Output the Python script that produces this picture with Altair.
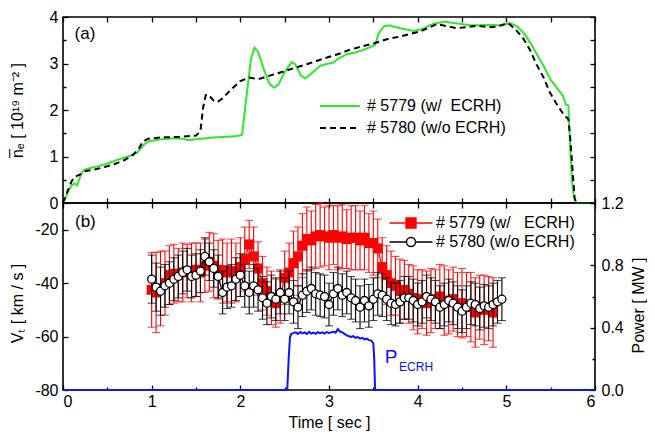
import altair as alt
import pandas as pd

FONT = "Liberation Sans"

# ---------------- top panel (a): line-averaged density ----------------
green_t = [0.00, 0.03, 0.07, 0.10, 0.13, 0.16, 0.19, 0.22, 0.26, 0.32, 0.40, 0.50, 0.60, 0.70,
           0.78, 0.84, 0.88, 0.92, 0.98, 1.10, 1.25, 1.35, 1.42, 1.50, 1.70, 1.90, 2.00, 2.02,
           2.07, 2.12, 2.16, 2.20, 2.27, 2.33, 2.38, 2.43, 2.50, 2.58, 2.62, 2.68, 2.73, 2.80,
           2.90, 3.00, 3.05, 3.10, 3.20, 3.30, 3.40, 3.52, 3.56, 3.62, 3.68, 3.80, 3.95, 4.05,
           4.17, 4.30, 4.45, 4.60, 4.80, 4.95, 5.04, 5.12, 5.20, 5.28, 5.35, 5.42, 5.50, 5.58,
           5.64, 5.67, 5.70, 5.72, 5.74, 5.76, 5.79, 6.00]
green_n = [0.00, 0.12, 0.30, 0.38, 0.42, 0.38, 0.55, 0.68, 0.73, 0.76, 0.79, 0.85, 0.92, 0.98,
           1.03, 1.09, 1.18, 1.27, 1.33, 1.37, 1.39, 1.38, 1.35, 1.37, 1.41, 1.43, 1.45, 1.47,
           2.30, 3.10, 3.34, 3.25, 2.85, 2.56, 2.48, 2.55, 2.82, 3.03, 2.98, 2.75, 2.68, 2.78,
           2.95, 3.00, 3.02, 3.10, 3.20, 3.24, 3.30, 3.40, 3.65, 3.80, 3.82, 3.76, 3.70, 3.74,
           3.85, 3.90, 3.86, 3.82, 3.83, 3.82, 3.87, 3.80, 3.65, 3.42, 3.18, 2.95, 2.65, 2.45,
           2.30, 2.12, 2.10, 1.20, 0.50, 0.15, 0.00, 0.00]

black_t = [0.00, 0.05, 0.10, 0.14, 0.20, 0.26, 0.38, 0.50, 0.60, 0.70, 0.79, 0.85, 0.90, 0.96,
           1.10, 1.30, 1.50, 1.55, 1.58, 1.61, 1.64, 1.70, 1.74, 1.80, 1.90, 2.00, 2.10, 2.20,
           2.30, 2.44, 2.62, 2.81, 2.96, 3.10, 3.24, 3.40, 3.52, 3.65, 3.80, 4.03, 4.22, 4.33,
           4.44, 4.55, 4.67, 4.80, 4.89, 5.02, 5.10, 5.19, 5.27, 5.34, 5.42, 5.49, 5.56, 5.64,
           5.70, 5.72, 5.74, 5.77, 5.79]
black_n = [0.00, 0.25, 0.48, 0.57, 0.62, 0.69, 0.73, 0.79, 0.85, 0.93, 1.04, 1.15, 1.32, 1.38,
           1.41, 1.42, 1.45, 1.55, 2.05, 2.32, 2.33, 2.20, 2.17, 2.25, 2.45, 2.62, 2.70, 2.66,
           2.72, 2.80, 2.91, 3.02, 3.12, 3.20, 3.30, 3.38, 3.44, 3.52, 3.58, 3.69, 3.85, 3.80,
           3.76, 3.78, 3.81, 3.78, 3.79, 3.87, 3.74, 3.54, 3.28, 2.98, 2.70, 2.38, 2.15, 1.92,
           1.80, 1.40, 0.89, 0.10, 0.00]

top_series = ["# 5779 (w/\u00a0 ECRH)", "# 5780 (w/o ECRH)"]

# ---------------- bottom panel (b): toroidal velocity and ECRH power ----------------
red_t = [1.00, 1.05, 1.10, 1.15, 1.20, 1.25, 1.30, 1.35, 1.40, 1.45,
         1.50, 1.55, 1.60, 1.65, 1.70, 1.75, 1.80, 1.85, 1.90, 1.95,
         2.00, 2.05, 2.10, 2.15, 2.20, 2.25, 2.30, 2.35, 2.40, 2.45,
         2.50, 2.55, 2.60, 2.65, 2.70, 2.75, 2.80, 2.85, 2.90, 2.95,
         3.00, 3.05, 3.10, 3.15, 3.20, 3.25, 3.30, 3.35, 3.40, 3.45,
         3.50, 3.55, 3.60, 3.65, 3.70, 3.75, 3.80, 3.85, 3.90, 3.95,
         4.00, 4.05, 4.10, 4.15, 4.20, 4.25, 4.30, 4.35, 4.40, 4.45,
         4.50, 4.55, 4.60, 4.65, 4.70, 4.75, 4.80, 4.85]
red_v = [-42.5, -43.5, -42.0, -40.0, -37.0, -36.5, -37.0, -36.0, -35.5, -36.0,
         -35.0, -36.0, -33.5, -32.0, -33.5, -35.0, -35.5, -36.0, -35.5, -36.0,
         -34.0, -31.0, -25.5, -30.0, -34.5, -40.0, -43.0, -45.5, -47.5, -45.0,
         -38.0, -36.0, -32.5, -30.0, -26.0, -23.5, -24.0, -22.5, -22.0, -22.5,
         -23.0, -22.0, -23.0, -22.5, -23.5, -23.0, -23.0, -24.0, -23.0, -25.0,
         -25.0, -27.0, -34.0, -37.0, -40.0, -41.0, -43.0, -42.5, -44.0, -45.5,
         -47.0, -46.0, -47.5, -46.5, -46.0, -45.0, -46.5, -47.0, -46.0, -48.0,
         -47.5, -48.0, -49.0, -51.0, -49.0, -50.0, -49.5, -51.0]
red_e = [14, 15, 14, 12, 11, 11, 10, 11, 10, 11,
         10, 11, 10, 11, 12, 11, 12, 11, 12, 11,
         11, 12, 9, 11, 10, 10, 9, 10, 9, 10,
         10, 11, 12, 11, 12, 12, 11, 12, 12, 11,
         12, 11, 12, 12, 11, 12, 12, 11, 12, 11,
         12, 11, 11, 11, 12, 11, 12, 11, 11, 12,
         12, 11, 12, 12, 11, 12, 13, 12, 12, 12,
         13, 12, 13, 13, 12, 13, 12, 13]

blk_t = [1.00, 1.05, 1.10, 1.15, 1.20, 1.25, 1.30, 1.35, 1.40, 1.45,
         1.50, 1.55, 1.60, 1.65, 1.70, 1.75, 1.80, 1.85, 1.90, 1.95,
         2.00, 2.05, 2.10, 2.15, 2.20, 2.25, 2.30, 2.35, 2.40, 2.45,
         2.50, 2.55, 2.60, 2.65, 2.70, 2.75, 2.80, 2.85, 2.90, 2.95,
         3.00, 3.05, 3.10, 3.15, 3.20, 3.25, 3.30, 3.35, 3.40, 3.45,
         3.50, 3.55, 3.60, 3.65, 3.70, 3.75, 3.80, 3.85, 3.90, 3.95,
         4.00, 4.05, 4.10, 4.15, 4.20, 4.25, 4.30, 4.35, 4.40, 4.45,
         4.50, 4.55, 4.60, 4.65, 4.70, 4.75, 4.80, 4.85, 4.90, 4.95]
blk_v = [-38.5, -41.5, -43.0, -41.0, -40.0, -38.5, -37.5, -36.0, -35.0, -37.5,
         -37.0, -35.5, -30.0, -32.0, -34.5, -37.5, -43.5, -41.5, -41.0, -38.5,
         -37.0, -41.0, -43.5, -41.0, -42.5, -45.5, -47.5, -45.0, -46.0, -43.5,
         -46.0, -43.5, -47.0, -49.0, -44.5, -43.0, -42.0, -44.0, -44.5, -45.0,
         -48.0, -44.0, -42.0, -44.5, -43.5, -45.5, -46.5, -49.0, -46.5, -48.5,
         -46.0, -44.0, -44.5, -46.0, -47.5, -48.0, -47.0, -45.5, -45.5, -46.5,
         -48.0, -47.0, -45.0, -46.0, -47.0, -49.0, -48.0, -46.5, -47.5, -49.0,
         -50.5, -49.0, -47.5, -48.0, -49.5, -48.5, -49.0, -48.0, -47.0, -46.0]
blk_e = [9, 9, 9, 8, 8, 8, 8, 8, 8, 8,
         8, 8, 7, 7, 7, 8, 8, 8, 8, 8,
         8, 8, 8, 8, 8, 8, 8, 8, 8, 8,
         8, 8, 8, 8, 8, 8, 8, 8, 8, 8,
         8, 8, 8, 8, 8, 8, 8, 8, 8, 8,
         8, 8, 8, 8, 8, 8, 8, 8, 8, 8,
         8, 8, 8, 8, 8, 8, 8, 8, 8, 8,
         8, 8, 8, 8, 8, 8, 8, 8, 8, 8]

pw_t = [0.00, 2.50, 2.53, 2.545, 2.56, 2.575, 2.60, 2.625, 2.65, 2.675, 2.70, 2.725, 2.75,
        2.775, 2.80, 2.825, 2.85, 2.875, 2.90, 2.925, 2.95, 2.975, 3.00, 3.025, 3.05, 3.075,
        3.10, 3.125, 3.15, 3.175, 3.20, 3.225, 3.25, 3.275, 3.30, 3.325, 3.35, 3.375, 3.40,
        3.425, 3.45, 3.475, 3.50, 3.51, 3.52, 6.00]
pw_p = [0.00, 0.00, 0.01, 0.20, 0.34, 0.36, 0.365, 0.37, 0.36, 0.372, 0.363, 0.37, 0.36,
        0.373, 0.362, 0.368, 0.36, 0.371, 0.365, 0.37, 0.362, 0.372, 0.366, 0.37, 0.375, 0.368,
        0.39, 0.375, 0.37, 0.36, 0.35, 0.345, 0.34, 0.345, 0.335, 0.34, 0.33, 0.335, 0.325,
        0.33, 0.32, 0.318, 0.30, 0.20, 0.00, 0.00]

bot_series = ["# 5779 (w/\u00a0\u00a0 ECRH)", "# 5780 (w/o ECRH)"]

RED = "#ff0000"
GREEN = "#2ee82e"
BLUE = "#0a14ff"

# ---------------- data tables ----------------
top_df = pd.concat([
    pd.DataFrame({"t": green_t, "n": green_n, "series": top_series[0]}),
    pd.DataFrame({"t": black_t, "n": black_n, "series": top_series[1]}),
], ignore_index=True)

red_df = pd.DataFrame({"t": red_t, "v": red_v, "e": red_e, "series": bot_series[0]})
red_df["lo"] = red_df["v"] - red_df["e"]
red_df["hi"] = red_df["v"] + red_df["e"]
blk_df = pd.DataFrame({"t": blk_t, "v": blk_v, "e": blk_e, "series": bot_series[1]})
blk_df["lo"] = blk_df["v"] - blk_df["e"]
blk_df["hi"] = blk_df["v"] + blk_df["e"]
both_df = pd.concat([red_df, blk_df], ignore_index=True)
pw_df = pd.DataFrame({"t": pw_t, "p": pw_p})

W, H1, H2 = 532, 186, 187


def axis(orient, values, label_expr=None, minor_test=None, title=None, **kw):
    props = dict(orient=orient, values=values, offset=-5, tickSize=5, tickWidth=1.3,
                 tickColor="black", domain=False, grid=False, title=title)
    if label_expr is None:
        props["labels"] = False
    else:
        props["labelExpr"] = label_expr
    if minor_test is not None:
        props["tickDash"] = {"condition": {"test": minor_test, "value": [0, 2, 3]},
                             "value": [5, 0]}
    props.update(kw)
    return alt.Axis(**props)


half_steps = [0, 0.5, 1, 1.5, 2, 2.5, 3, 3.5, 4, 4.5, 5, 5.5, 6]

# ---- top panel encodings
xt = alt.X("t:Q", scale=alt.Scale(domain=[0, 6], nice=False, zero=False),
           axis=axis("bottom", half_steps))
yt = alt.Y("n:Q", scale=alt.Scale(domain=[0, 4], nice=False, zero=False),
           axis=axis("left", [0, 0.5, 1, 1.5, 2, 2.5, 3, 3.5, 4],
                     label_expr="datum.value % 1 == 0 ? format(datum.value, 'd') : ''",
                     minor_test="datum.value % 1 != 0",
                     title="n\u0305\u2091 [ 10\u00b9\u2079 m\u207b\u00b2 ]",
                     labelPadding=5, titleX=-51, titleY=93, titleAngle=270,
                     titleBaseline="middle", titleAlign="center"))
xt2 = alt.X("t:Q", scale=alt.Scale(domain=[0, 6], nice=False, zero=False),
            axis=axis("top", half_steps))
yt2 = alt.Y("n:Q", scale=alt.Scale(domain=[0, 4], nice=False, zero=False),
            axis=axis("right", [0, 0.5, 1, 1.5, 2, 2.5, 3, 3.5, 4]))

leg_t = alt.Legend(title=None, orient="none", legendX=266, legendY=78,
                   symbolType="M-2,0H2", symbolSize=400, symbolStrokeWidth=2,
                   labelOffset=16, padding=0, rowPadding=3)
top_lines = alt.Chart(top_df).mark_line(strokeWidth=2).encode(
    x=xt, y=yt,
    color=alt.Color("series:N", scale=alt.Scale(domain=top_series, range=[GREEN, "black"]),
                    legend=leg_t),
    strokeDash=alt.StrokeDash("series:N",
                              scale=alt.Scale(domain=top_series, range=[[1, 0], [6, 4]]),
                              legend=leg_t),
    detail="series:N",
)
label_a = alt.Chart(pd.DataFrame({"t": [0.13], "n": [3.63], "txt": ["(a)"]})).mark_text(
    align="left", baseline="middle", fontSize=17, font=FONT, color="black"
).encode(x=xt, y=yt, text="txt:N")

top_mirror = alt.Chart(top_df).mark_point(opacity=0, size=1).encode(x=xt2, y=yt2)

top = alt.layer(alt.layer(top_lines, label_a), top_mirror).resolve_scale(
    x="independent", y="independent").properties(width=W, height=H1)

# ---- bottom panel encodings
xb = alt.X("t:Q", scale=alt.Scale(domain=[0, 6], nice=False, zero=False),
           axis=axis("bottom", half_steps,
                     label_expr="datum.value % 1 == 0 ? format(datum.value, 'd') : ''",
                     minor_test="datum.value % 1 != 0", title="Time [ sec ]",
                     labelPadding=3, titleX=266, titleY=37, titleBaseline="middle",
                     titleAlign="center"))
yb = alt.Y("v:Q", scale=alt.Scale(domain=[-80, -10], nice=False, zero=False),
           axis=axis("left", [-80, -70, -60, -50, -40, -30, -20],
                     label_expr="datum.value % 20 == 0 ? '' + datum.value : ''",
                     minor_test="datum.value % 20 != 0",
                     title="V\u209c [ km / s ]", labelPadding=5, titleX=-51, titleY=100,
                     titleAngle=270, titleBaseline="middle", titleAlign="center"))
ylo = alt.Y("lo:Q", scale=alt.Scale(domain=[-80, -10], nice=False, zero=False))
yhi = alt.Y("hi:Q", scale=alt.Scale(domain=[-80, -10], nice=False, zero=False))
xb2 = alt.X("t:Q", scale=alt.Scale(domain=[0, 6], nice=False, zero=False),
            axis=axis("top", half_steps))
yb2 = alt.Y("p:Q", scale=alt.Scale(domain=[0, 1.2], nice=False, zero=False),
            axis=axis("right", [0, 0.2, 0.4, 0.6, 0.8, 1.0, 1.2],
                      label_expr="round(datum.value * 10) % 4 == 0 ? format(datum.value, '.1f') : ''",
                      minor_test="round(datum.value * 10) % 4 != 0",
                      title="Power [ MW ]", labelPadding=6, titleX=48, titleY=102,
                      titleAngle=270, titleBaseline="middle", titleAlign="center"))


def series_layers(df, color, point_mark):
    base = alt.Chart(df)
    rule = base.mark_rule(color=color, strokeWidth=1.1).encode(x=xb, y=ylo, y2="hi:Q")
    cap_lo = base.mark_tick(color=color, orient="horizontal", size=8, thickness=1.1).encode(x=xb, y=ylo)
    cap_hi = base.mark_tick(color=color, orient="horizontal", size=8, thickness=1.1).encode(x=xb, y=yhi)
    line = base.mark_line(color=color, strokeWidth=1.3).encode(x=xb, y=yb)
    pts = base.mark_point(**point_mark).encode(x=xb, y=yb)
    return [rule, cap_lo, cap_hi, line, pts]


red_layers = series_layers(red_df, RED, dict(shape="square", size=100, filled=True,
                                             color=RED, opacity=1))
blk_layers = series_layers(blk_df, "black", dict(shape="circle", size=64, filled=False,
                                                 color="black", fill="white",
                                                 strokeWidth=1.3, opacity=1))

SQ = "M-2.15,0H2.15M-0.5,-0.5H0.5V0.5H-0.5Z"
CI = "M-2.15,0H-0.45M0.45,0H2.15M-0.45,0A0.45,0.45,0,1,0,0.45,0A0.45,0.45,0,1,0,-0.45,0Z"
leg_b = alt.Legend(title=None, orient="none", legendX=337, legendY=9, symbolSize=400,
                   symbolStrokeWidth=1.4, labelOffset=14, padding=0, rowPadding=0)
legend_layer = alt.Chart(both_df).transform_filter("datum.t < -100").mark_point(
    filled=False, strokeWidth=1.4, opacity=1
).encode(
    x=xb, y=yb,
    color=alt.Color("series:N", scale=alt.Scale(domain=bot_series, range=[RED, "black"]), legend=leg_b),
    fill=alt.Fill("series:N", scale=alt.Scale(domain=bot_series, range=[RED, "white"]), legend=leg_b),
    shape=alt.Shape("series:N", scale=alt.Scale(domain=bot_series, range=[SQ, CI]), legend=leg_b),
)
label_b = alt.Chart(pd.DataFrame({"t": [0.135], "v": [-17.0], "txt": ["(b)"]})).mark_text(
    align="left", baseline="middle", fontSize=17, font=FONT, color="black"
).encode(x=xb, y=yb, text="txt:N")

vt_layer = alt.layer(*red_layers, *blk_layers, legend_layer, label_b)

power_line = alt.Chart(pw_df).mark_line(color=BLUE, strokeWidth=2).encode(x=xb2, y=yb2)
p_text = alt.Chart(pd.DataFrame({"t": [3.63], "p": [0.21], "txt": ["P"]})).mark_text(
    align="left", baseline="middle", fontSize=19, font=FONT, color=BLUE
).encode(x=xb2, y=yb2, text="txt:N")
ecrh_text = alt.Chart(pd.DataFrame({"t": [3.79], "p": [0.15], "txt": ["ECRH"]})).mark_text(
    align="left", baseline="middle", fontSize=12, font=FONT, color=BLUE
).encode(x=xb2, y=yb2, text="txt:N")
power_layer = alt.layer(power_line, p_text, ecrh_text)

bottom = alt.layer(vt_layer, power_layer).resolve_scale(
    x="independent", y="independent").properties(width=W, height=H2)

chart = alt.vconcat(top, bottom, spacing=0, bounds="flush").resolve_scale(
    color="independent", strokeDash="independent", shape="independent", fill="independent"
).resolve_legend(
    color="independent", strokeDash="independent", shape="independent", fill="independent"
).properties(
    padding={"left": 0, "top": 0, "right": 0, "bottom": 0}
).configure_view(
    stroke="black", strokeWidth=1.6
).configure_axis(
    labelFont=FONT, titleFont=FONT, labelFontSize=16, titleFontSize=16,
    titleFontWeight="normal", labelColor="black", titleColor="black"
).configure_legend(
    labelFont=FONT, labelFontSize=16, labelColor="black"
)

chart.save("out.html", embed_options={"renderer": "svg", "actions": False})
